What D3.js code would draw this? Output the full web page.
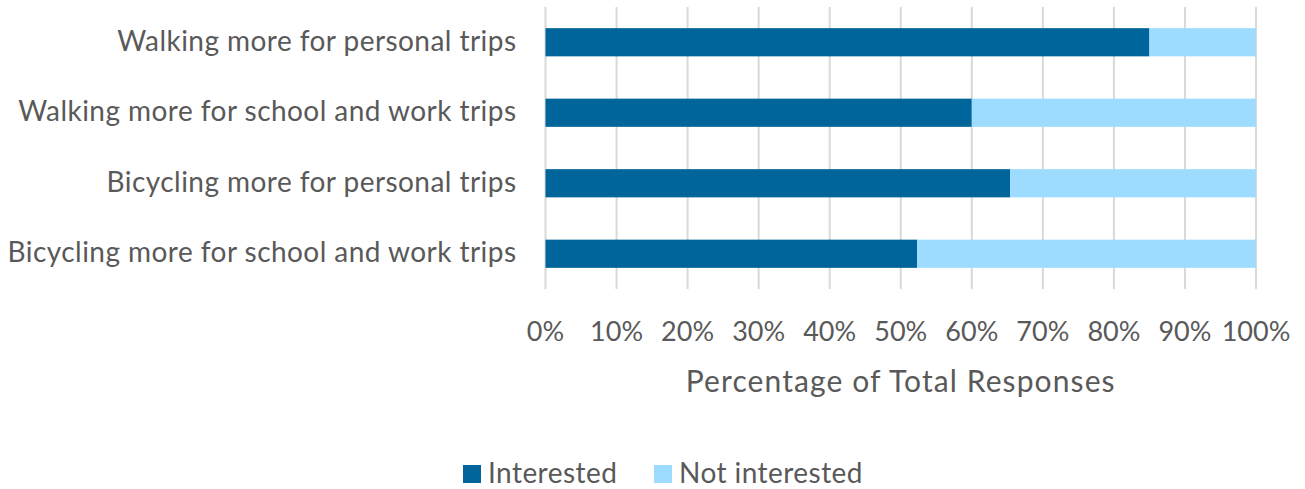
<!DOCTYPE html>
<html>
<head>
<meta charset="utf-8">
<script src="https://cdn.jsdelivr.net/npm/d3@7"></script>
<style>
  body { margin: 0; background: #fff; }
  svg text { font-family: Lato, "Open Sans", sans-serif; fill: #595959; }
</style>
</head>
<body>
<div id="chart"></div>
<script>
// Interesse an mehr Gehen / Radfahren — gestapelte Balken (100 %)
const categories = [
  "Walking more for personal trips",
  "Walking more for school and work trips",
  "Bicycling more for personal trips",
  "Bicycling more for school and work trips"
];
const interested    = [85, 60, 65.4, 52.3];
const notInterested = interested.map(v => 100 - v);
const seriesNames   = ["Interested", "Not interested"];
const seriesColors  = ["#00659a", "#9edcff"];
const tickValues    = [0, 10, 20, 30, 40, 50, 60, 70, 80, 90, 100];

const W = 1305, H = 489, M = { top: 7, right: 49, bottom: 200, left: 545.5 };

const svg = d3.select("#chart").append("svg").attr("width", W).attr("height", H);

const x = d3.scaleLinear().domain([0, 100]).range([M.left, W - M.right]);
const y = d3.scaleBand().domain(categories).range([M.top, H - M.bottom]).paddingInner(0.6).paddingOuter(0.3);

// Gitterlinien
svg.append("g").selectAll("line").data(tickValues).join("line")
  .attr("x1", d => x(d)).attr("x2", d => x(d))
  .attr("y1", M.top).attr("y2", H - M.bottom)
  .attr("stroke", "#d9d9d9").attr("stroke-width", 2);

// Stapel
const rows = categories.map((c, i) => ({ cat: c, Interested: interested[i], "Not interested": notInterested[i] }));
const stack = d3.stack().keys(seriesNames)(rows);

svg.append("g").selectAll("g").data(stack).join("g")
  .attr("fill", (d, i) => seriesColors[i])
  .selectAll("rect").data(d => d).join("rect")
  .attr("x", d => x(d[0]))
  .attr("width", d => x(d[1]) - x(d[0]))
  .attr("y", d => y(d.data.cat))
  .attr("height", y.bandwidth());

// Kategorien
svg.append("g").selectAll("text").data(categories).join("text")
  .attr("x", M.left - 29)
  .attr("y", d => y(d) + y.bandwidth() / 2 + 8.5)
  .attr("text-anchor", "end")
  .style("font-size", "28px").style("letter-spacing", "0.45px")
  .text(d => d);

// X-Achse Beschriftung
svg.append("g").selectAll("text").data(tickValues).join("text")
  .attr("x", d => x(d))
  .attr("y", 341)
  .attr("text-anchor", "middle")
  .style("font-size", "27px")
  .text(d => d + "%");

svg.append("text")
  .attr("x", (x(0) + x(100)) / 2).attr("y", 392)
  .attr("text-anchor", "middle").style("font-size", "30px").style("letter-spacing", "1.1px")
  .text("Percentage of Total Responses");

// Legende
const leg = svg.append("g");
const legX = [463, 654];
seriesNames.forEach((s, i) => {
  leg.append("rect").attr("x", legX[i]).attr("y", 465).attr("width", 18).attr("height", 18).attr("fill", seriesColors[i]);
  leg.append("text").attr("x", legX[i] + 25).attr("y", 483)
    .style("font-size", "28px").style("letter-spacing", "0.45px").text(s);
});
</script>
</body>
</html>
